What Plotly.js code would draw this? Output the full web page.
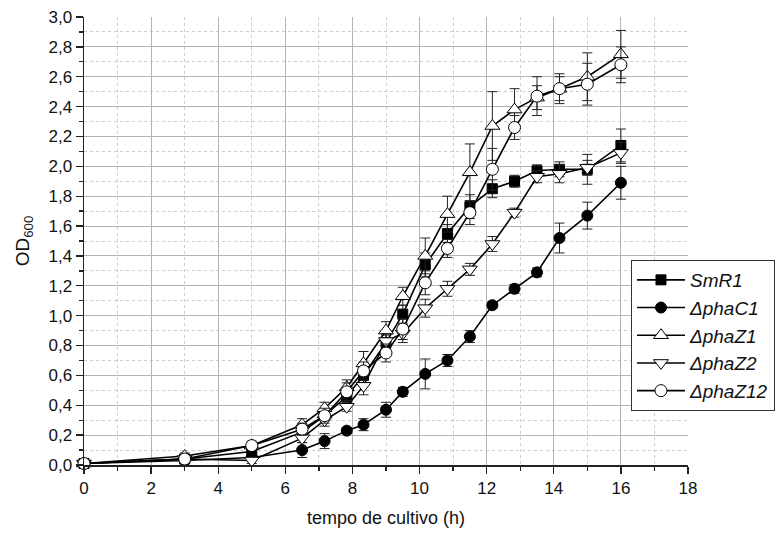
<!DOCTYPE html>
<html>
<head>
<meta charset="utf-8">
<script src="https://cdn.plot.ly/plotly-3.0.1.min.js"></script>
<style>html,body{margin:0;padding:0;background:#fff;}#chart{width:777px;height:534px;}</style>
</head>
<body>
<div id="chart"></div>
<script>
// Time points (h)
const time = [0, 3, 5, 6.5, 7.17, 7.83, 8.33, 9, 9.5, 10.17, 10.83, 11.5, 12.17, 12.83, 13.5, 14.17, 15, 16];

// Series names
const seriesNames = ["SmR1", "ΔphaC1", "ΔphaZ1", "ΔphaZ2", "ΔphaZ12"];

// OD600 values
const smr1   = [0.01, 0.04, 0.09, 0.22, 0.33, 0.46, 0.60, 0.82, 1.01, 1.34, 1.55, 1.73, 1.85, 1.90, 1.97, 1.98, 1.98, 2.14];
const phaC1  = [0.01, 0.03, 0.05, 0.10, 0.16, 0.23, 0.27, 0.37, 0.49, 0.61, 0.70, 0.86, 1.07, 1.18, 1.29, 1.52, 1.67, 1.89];
const phaZ1  = [0.01, 0.06, 0.13, 0.27, 0.38, 0.52, 0.68, 0.90, 1.13, 1.40, 1.68, 1.96, 2.27, 2.38, 2.46, 2.52, 2.60, 2.75];
const phaZ2  = [0.01, 0.04, 0.03, 0.18, 0.30, 0.39, 0.53, 0.83, 0.88, 1.05, 1.18, 1.31, 1.48, 1.69, 1.93, 1.95, 1.99, 2.09];
const phaZ12 = [0.01, 0.04, 0.13, 0.24, 0.33, 0.49, 0.63, 0.75, 0.91, 1.22, 1.45, 1.69, 1.98, 2.26, 2.47, 2.52, 2.55, 2.68];

// Error bars (standard deviation)
const smr1Err   = [0, 0.01, 0.02, 0.03, 0.03, 0.04, 0.05, 0.05, 0.06, 0.08, 0.06, 0.08, 0.06, 0.04, 0.04, 0.05, 0.10, 0.11];
const phaC1Err  = [0, 0.01, 0.01, 0.05, 0.05, 0.02, 0.04, 0.05, 0.03, 0.10, 0.04, 0.04, 0.02, 0.03, 0.03, 0.10, 0.09, 0.11];
const phaZ1Err  = [0, 0.02, 0.03, 0.04, 0.04, 0.05, 0.08, 0.06, 0.06, 0.12, 0.12, 0.19, 0.23, 0.14, 0.08, 0.08, 0.16, 0.16];
const phaZ2Err  = [0, 0.01, 0.02, 0.03, 0.04, 0.03, 0.06, 0.05, 0.06, 0.06, 0.05, 0.04, 0.05, 0.03, 0.04, 0.06, 0.05, 0.07];
const phaZ12Err = [0, 0.01, 0.02, 0.04, 0.05, 0.06, 0.06, 0.06, 0.07, 0.08, 0.06, 0.08, 0.14, 0.08, 0.13, 0.10, 0.14, 0.12];

const yTickVals = [0, 0.2, 0.4, 0.6, 0.8, 1.0, 1.2, 1.4, 1.6, 1.8, 2.0, 2.2, 2.4, 2.6, 2.8, 3.0];

const values = [smr1, phaC1, phaZ1, phaZ2, phaZ12];
const errors = [smr1Err, phaC1Err, phaZ1Err, phaZ2Err, phaZ12Err];
const symbols = ["square", "circle", "triangle-up", "triangle-down", "circle"];
const fills = ["#000", "#000", "#fff", "#fff", "#fff"];
const sizes = [10, 11, 13, 13, 12];

const traces = seriesNames.map((name, i) => ({
  x: time,
  y: values[i],
  name: "<i>" + name + "</i>",
  type: "scatter",
  mode: "lines+markers",
  line: {color: "#000", width: 1.6},
  marker: {symbol: symbols[i], size: sizes[i], color: fills[i], line: {color: "#000", width: 1}},
  error_y: {type: "data", array: errors[i], visible: true, color: "#222", thickness: 1, width: 5},
  cliponaxis: false
}));

const layout = {
  width: 777,
  height: 534,
  margin: {l: 84, r: 89, t: 17, b: 69, autoexpand: false},
  paper_bgcolor: "#fff",
  plot_bgcolor: "#fff",
  separators: ",.",
  font: {family: "Liberation Sans, Arial, sans-serif", color: "#111", size: 17},
  showlegend: true,
  legend: {
    x: 1.144, y: 0.4576, xanchor: "right", yanchor: "top",
    bgcolor: "#fff", bordercolor: "#333", borderwidth: 1,
    font: {size: 19, family: "Liberation Sans, Arial, sans-serif"},
    tracegroupgap: 0, itemwidth: 48
  },
  xaxis: {
    range: [0, 18],
    tickmode: "linear", tick0: 0, dtick: 2,
    ticks: "outside", ticklen: 7, tickwidth: 1.3, tickcolor: "#222",
    showline: true, linecolor: "#222", linewidth: 1.5,
    showgrid: true, gridcolor: "#b4b4b4", gridwidth: 1,
    zeroline: false,
    tickfont: {size: 17},
    minor: {dtick: 1, ticks: "outside", ticklen: 4, tickcolor: "#222", showgrid: true, gridcolor: "#cccccc", griddash: "dot"},
    title: {text: "tempo de cultivo (h)", font: {size: 18}, standoff: 14}
  },
  yaxis: {
    range: [0, 3],
    tickmode: "array", tickvals: yTickVals, tickformat: ".1f",
    ticks: "outside", ticklen: 7, tickwidth: 1.3, tickcolor: "#222",
    showline: true, linecolor: "#222", linewidth: 1.5,
    showgrid: true, gridcolor: "#b4b4b4", gridwidth: 1,
    zeroline: false,
    tickfont: {size: 17},
    minor: {dtick: 0.1, ticks: "outside", ticklen: 4, tickcolor: "#222", showgrid: true, gridcolor: "#cccccc", griddash: "dot"},
    title: {text: "OD<sub>600</sub>", font: {size: 19}, standoff: 14}
  }
};

Plotly.newPlot("chart", traces, layout, {displayModeBar: false, staticPlot: true});
</script>
</body>
</html>
